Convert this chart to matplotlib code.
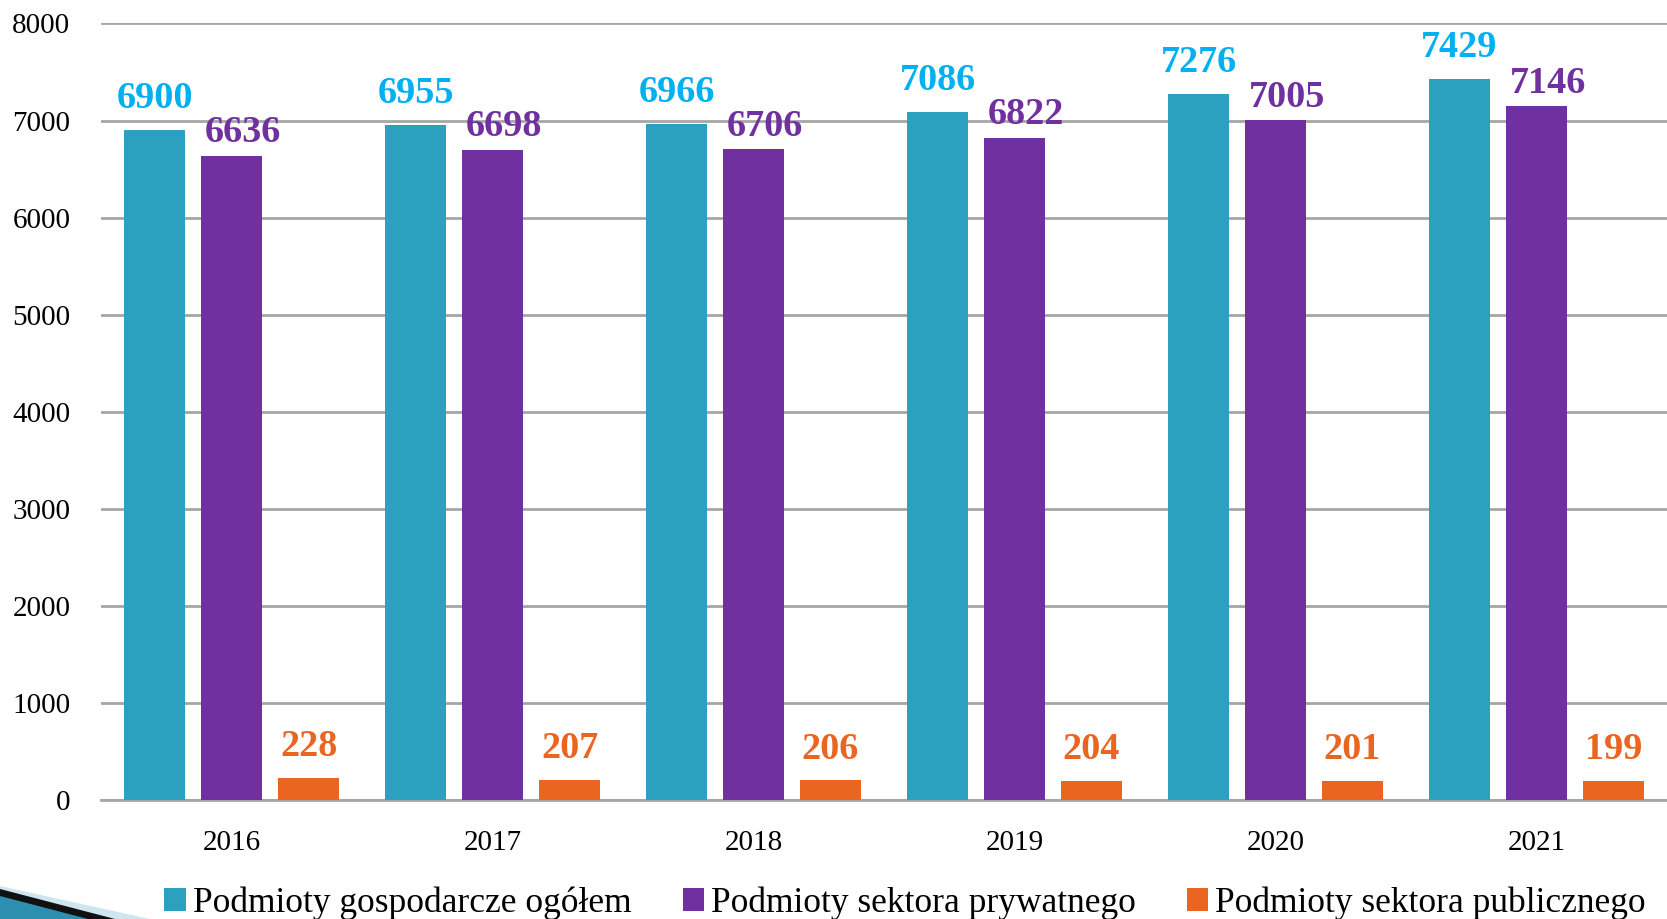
import matplotlib
matplotlib.use("Agg")
import matplotlib.pyplot as plt
import numpy as np
from matplotlib.patches import Polygon

years = ["2016", "2017", "2018", "2019", "2020", "2021"]
ogolem = [6900, 6955, 6966, 7086, 7276, 7429]
prywatny = [6636, 6698, 6706, 6822, 7005, 7146]
publiczny = [228, 207, 206, 204, 201, 199]
series_names = ["Podmioty gospodarcze ogółem", "Podmioty sektora prywatnego",
                "Podmioty sektora publicznego"]
yticks = [0, 1000, 2000, 3000, 4000, 5000, 6000, 7000, 8000]

bar_colors = ["#2CA1BF", "#7030A0", "#EA6520"]
label_colors = ["#00B0F0", "#7030A0", "#EA6520"]
label_dx = [0, 8, 0]
label_dy = [10, 4, 10]

plt.rcParams['font.family'] = ['Liberation Serif', 'DejaVu Serif']

W, H = 1667, 919
fig = plt.figure(figsize=(W / 100, H / 100), dpi=100)
ax = fig.add_axes([0.0606, 0.129, 0.9394, 0.8455])

x = np.arange(len(years))
width = 0.236
step = 0.295
for i, (vals, name) in enumerate(zip([ogolem, prywatny, publiczny], series_names)):
    pos = x + (i - 1) * step
    bars = ax.bar(pos, vals, width, color=bar_colors[i], label=name, zorder=3)
    for b, v in zip(bars, vals):
        ax.annotate(f"{v}", (b.get_x() + b.get_width() / 2, v),
                    xytext=(label_dx[i], label_dy[i]), textcoords="offset points",
                    ha="center", va="bottom", fontsize=27.5, fontweight="bold",
                    color=label_colors[i], zorder=4)

ax.set_xlim(-0.5, len(years) - 0.5)
ax.set_ylim(0, 8000)
ax.set_yticks(yticks)
ax.set_yticklabels([str(t) for t in yticks], fontsize=21)
ax.set_xticks(x)
ax.set_xticklabels(years, fontsize=21)
ax.tick_params(axis="x", length=0, pad=21)
ax.tick_params(axis="y", length=0, pad=22)
ax.yaxis.grid(True, color="#A6A6A6", linewidth=2, zorder=0)
for s in ["left", "right", "top"]:
    ax.spines[s].set_visible(False)
ax.spines["bottom"].set_color("#A6A6A6")
ax.spines["bottom"].set_linewidth(2)

leg = fig.legend(loc="lower center", bbox_to_anchor=(0.543, -0.036), ncol=3,
                 frameon=False, fontsize=25.5, handlelength=0.6, handleheight=0.6,
                 handletextpad=0.2, columnspacing=1.45)

def fy(py):
    return 1 - py / H

fig.patches.append(Polygon([(0, fy(886)), (150 / W, fy(919)), (0, fy(919))],
                           closed=True, transform=fig.transFigure,
                           facecolor="#CFE6F0", edgecolor="none"))
fig.patches.append(Polygon([(0, fy(889)), (115 / W, fy(919)), (0, fy(919))],
                           closed=True, transform=fig.transFigure,
                           facecolor="#111111", edgecolor="none"))
fig.patches.append(Polygon([(0, fy(896)), (88 / W, fy(919)), (0, fy(919))],
                           closed=True, transform=fig.transFigure,
                           facecolor="#2C8FB0", edgecolor="none"))

fig.savefig("out.png", dpi=100)
